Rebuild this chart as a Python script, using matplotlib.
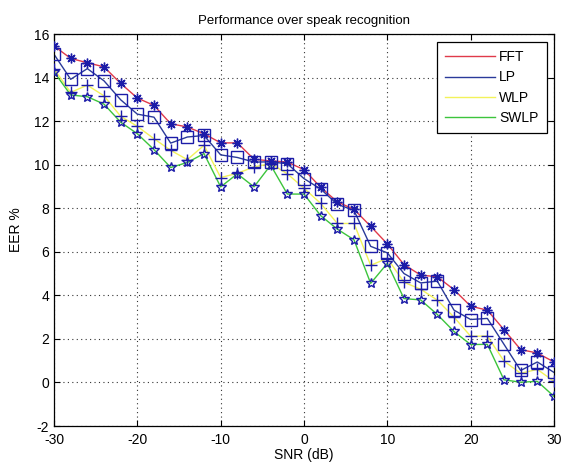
import numpy as np
import matplotlib
matplotlib.use("Agg")
import matplotlib.pyplot as plt

plt.rcParams['font.family'] = ['Liberation Sans', 'DejaVu Sans']
plt.rcParams['axes.unicode_minus'] = False

snr = list(range(-30, 31, 2))
fft = [15.45, 14.88, 14.68, 14.49, 13.73, 13.06, 12.72, 11.88, 11.73, 11.42, 11.0,
       11.0, 10.25, 10.17, 10.12, 9.77, 8.96, 8.29, 7.95, 7.17, 6.36,
       5.41, 4.93, 4.85, 4.26, 3.5, 3.32, 2.42, 1.51, 1.35, 0.94]
lp = [15.07, 13.92, 14.41, 13.85, 12.98, 12.32, 12.18, 10.99, 11.27, 11.34, 10.45,
      10.33, 10.12, 10.13, 10.04, 9.36, 8.88, 8.18, 7.9, 6.25, 5.95,
      5.0, 4.57, 4.65, 3.32, 2.89, 2.94, 1.75, 0.55, 0.94, 0.46]
wlp = [14.4, 13.32, 13.65, 13.16, 12.22, 11.76, 11.19, 10.66, 10.23, 10.89, 9.41,
       9.6, 9.9, 10.05, 9.58, 8.92, 8.22, 7.3, 7.3, 5.38, 5.7,
       4.6, 4.28, 3.78, 3.0, 2.12, 2.13, 0.98, 0.42, 0.6, 0.05]
swlp = [14.26, 13.2, 13.12, 12.78, 11.95, 11.42, 10.69, 9.87, 10.1, 10.51, 8.98,
        9.58, 8.98, 9.98, 8.65, 8.65, 7.66, 7.04, 6.55, 4.55, 5.47,
        3.85, 3.79, 3.12, 2.34, 1.74, 1.75, 0.12, 0.01, 0.05, -0.64]

labels = ['FFT', 'LP', 'WLP', 'SWLP']
series = [fft, lp, wlp, swlp]
line_colors = ['#e03a4a', '#2a3a9a', '#f2f25a', '#3cc43c']
markers = [(8, 2, 0), 's', '+', '*']
msizes = [7, 8, 8, 7]
mk_color = '#1c1ca8'

fig = plt.figure(figsize=(5.61, 4.70), dpi=100)
ax = fig.add_axes([54/561, 1-426/470, 500/561, 392/470])

handles = []
for y, lab, c, m, ms in zip(series, labels, line_colors, markers, msizes):
    h, = ax.plot(snr, y, '-', color=c, lw=1.0, label=lab, zorder=2)
    handles.append(h)
    ax.plot(snr, y, linestyle='none', marker=m, ms=ms, mfc='none',
            mec=mk_color, mew=1.0, zorder=3)

ax.set_xlim(-30, 30)
ax.set_ylim(-2, 16)
ax.set_xticks(range(-30, 31, 10))
ax.set_yticks(range(-2, 17, 2))
ax.tick_params(direction='in', top=True, right=True, labelsize=10, length=4,
               width=0.8, colors='black')
ax.tick_params(axis='x', pad=5)
ax.grid(True, linestyle=(0, (1, 3)), color='#333333', lw=0.8)
for s in ax.spines.values():
    s.set_linewidth(0.9)

ax.set_title('Performance over speak recognition', fontsize=9.5, pad=7)
ax.set_xlabel('SNR (dB)', fontsize=10, labelpad=1)
ax.set_ylabel('EER %', fontsize=10, labelpad=8)

leg = ax.legend(handles=handles, loc='upper right', bbox_to_anchor=(0.986, 0.98),
                borderaxespad=0, fancybox=False, framealpha=1, edgecolor='black',
                fontsize=10, handlelength=3.6, labelspacing=0.45, borderpad=0.6,
                handletextpad=0.3)
leg.get_frame().set_linewidth(0.9)

fig.savefig('out.png', dpi=100)
